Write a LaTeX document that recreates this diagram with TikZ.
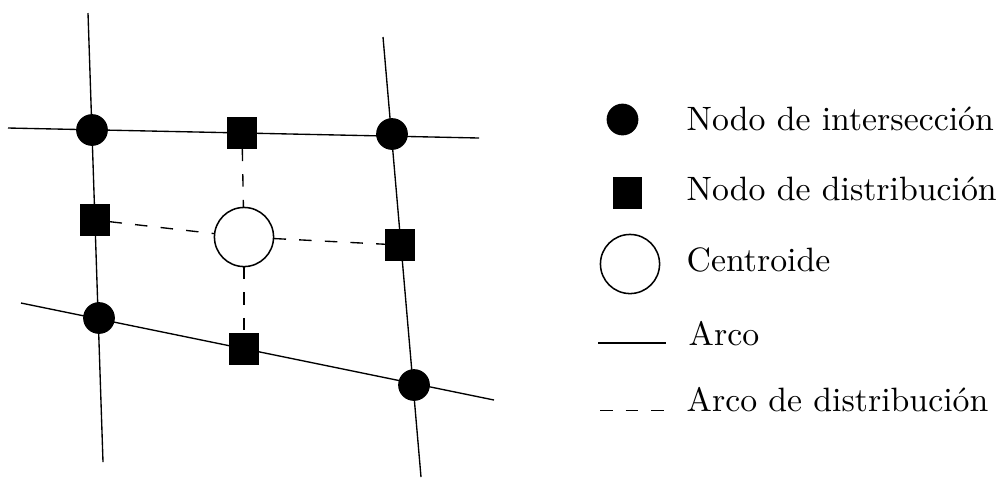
\documentclass[tikz,border=0pt]{standalone}
\begin{document}
\begin{tikzpicture}[x=0.296pt,y=-0.296pt,
  arc/.style={line width=0.4pt},
  distarc/.style={line width=0.4pt,dash pattern=on 3.7pt off 3.9pt},
  inode/.style={circle,fill=black,inner sep=0pt,outer sep=0pt,minimum size=9.4pt},
  dnode/.style={rectangle,fill=black,inner sep=0pt,outer sep=0pt,minimum width=8.6pt,minimum height=9.2pt},
  cnode/.style={circle,draw=black,fill=white,line width=0.45pt,inner sep=0pt,outer sep=0pt,minimum size=17.5pt},
  label/.style={anchor=base west,inner sep=0pt,font=\fontsize{10}{12}\selectfont}]
\useasboundingbox (0,0) rectangle (1001,477);

% free ends of the street arcs
\coordinate (lvT) at (88,13);   \coordinate (lvB) at (103,462);
\coordinate (rvT) at (383,37);  \coordinate (rvB) at (421,477);
\coordinate (thL) at (8,128);   \coordinate (thR) at (479,138);
\coordinate (bhL) at (21,303);  \coordinate (bhR) at (494,400);

% arcs
\draw[arc] (lvT) -- (lvB);
\draw[arc] (rvT) -- (rvB);
\draw[arc] (thL) -- (thR);
\draw[arc] (bhL) -- (bhR);

% intersection nodes
\node[inode] (i1) at (92,130) {};
\node[inode] (i2) at (392,134) {};
\node[inode] (i3) at (99,318) {};
\node[inode] (i4) at (414,385) {};

% distribution nodes
\node[dnode] (dT) at (242,133) {};
\node[dnode] (dL) at (95,220) {};
\node[dnode] (dR) at (400,245) {};
\node[dnode] (dB) at (244,349) {};

% centroid
\node[cnode] (c) at (244,237) {};

% distribution arcs
\draw[distarc] (dT) -- (c);
\draw[distarc] (dL) -- (c);
\draw[distarc] (c) -- (dR);
\draw[distarc] (c) -- (dB);

% legend
\node[inode] (li) at (622.5,119.5) {};
\node[dnode] (ld) at (627.5,193) {};
\node[cnode] (lc) at (630,264) {};
\coordinate (lsA) at (598,343); \coordinate (lsB) at (666,343);
\draw[arc] (lsA) -- (lsB);
\coordinate (ldA) at (600,410.5); \coordinate (ldB) at (666,410.5);
\draw[line width=0.4pt,dash pattern=on 3.7pt off 3.9pt] (ldA) -- (ldB);

\node[label] (t1) at (686,130.7) {Nodo de intersección};
\node[label] (t2) at (686,200) {Nodo de distribución};
\node[label] (t3) at (686,271) {Centroide};
\node[label] (t4) at (688,345) {Arco};
\node[label] (t5) at (686,411.7) {Arco de distribución};
\end{tikzpicture}
\end{document}
